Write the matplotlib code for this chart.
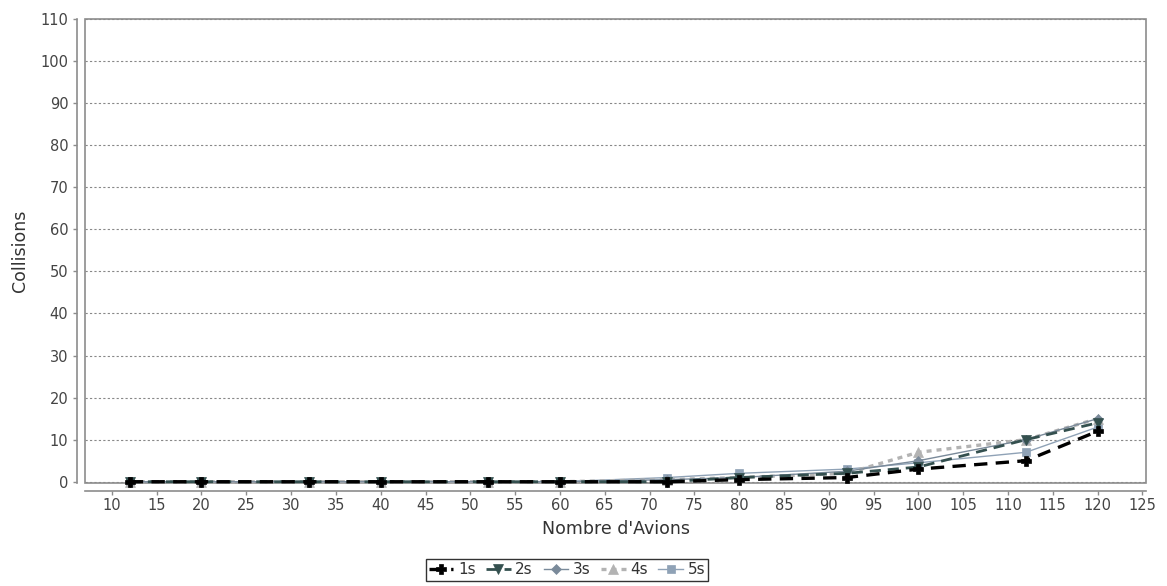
import matplotlib
matplotlib.use("Agg")
import matplotlib.pyplot as plt
from matplotlib.patches import Rectangle

x_values = [12, 20, 32, 40, 52, 60, 72, 80, 92, 100, 112, 120]
s1 = [0, 0, 0, 0, 0, 0, 0, 0.5, 1, 3, 5, 12]
s2 = [0, 0, 0, 0, 0, 0, 0, 1, 2, 3.5, 10, 14]
s3 = [0, 0, 0, 0, 0, 0, 0.5, 1, 2.5, 5, 10, 15]
s4 = [0, 0, 0, 0, 0, 0, 0.5, 1, 2, 7, 10, 15]
s5 = [0, 0, 0, 0, 0, 0, 1, 2, 3, 4.5, 7, 13]
series_labels = ["1s", "2s", "3s", "4s", "5s"]
x_ticks = list(range(10, 126, 5))
y_ticks = list(range(0, 111, 10))

W, H = 1167, 586
fig = plt.figure(figsize=(W / 100, H / 100), dpi=100)
L, R, T, B = 85, 1146, 19, 483
ax = fig.add_axes([L / W, 1 - B / H, (R - L) / W, (B - T) / H])

styles = [
    dict(color="#000000", ls=(0, (4, 2.5)), lw=2.4, marker="P", ms=7, zorder=6),
    dict(color="#34504f", ls=(0, (4, 2.5)), lw=2.0, marker="v", ms=7, zorder=5),
    dict(color="#7a8a9a", ls="-", lw=1.0, marker="D", ms=5, zorder=4),
    dict(color="#b3b3b3", ls=(0, (1.5, 1.5)), lw=2.4, marker="^", ms=7, zorder=3),
    dict(color="#8fa2b6", ls="-", lw=1.0, marker="s", ms=6, zorder=2),
]
data = [s1, s2, s3, s4, s5]
for d, lab, st in zip(data, series_labels, styles):
    ax.plot(x_values, d, label=lab, color=st["color"], linestyle=st["ls"],
            linewidth=st["lw"], marker=st["marker"], markersize=st["ms"],
            markeredgewidth=0.5, markeredgecolor=st["color"], zorder=st["zorder"],
            clip_on=False)

ax.set_xlim(7.0, 125.4)
ax.set_ylim(-0.3, 110)
ax.set_xticks(x_ticks)
ax.set_yticks(y_ticks)

ax.grid(axis="y", color="#888888", linestyle=(0, (2, 2)), linewidth=0.8)
ax.set_axisbelow(True)

for side in ["top", "right"]:
    ax.spines[side].set_visible(False)
for side in ["left", "bottom"]:
    ax.spines[side].set_position(("outward", 6))
    ax.spines[side].set_color("#8c8c8c")
    ax.spines[side].set_linewidth(1.2)
ax.add_patch(Rectangle((0, 0), 1, 1, transform=ax.transAxes, fill=False,
                       edgecolor="#8c8c8c", linewidth=1.2, zorder=1, clip_on=False))

ax.tick_params(axis="both", colors="#8c8c8c", length=3, width=1,
               labelsize=10.5, labelcolor="#444444")
ax.tick_params(axis="x", pad=2)
ax.tick_params(axis="y", pad=3)

ax.set_xlabel("Nombre d'Avions", fontsize=12.5, color="#333333", labelpad=5)
ax.set_ylabel("Collisions", fontsize=12.5, color="#333333", labelpad=8)

leg = fig.legend(loc="center", bbox_to_anchor=(567 / W, 1 - 570 / H), ncol=5,
                 frameon=True, fancybox=False, fontsize=11, handlelength=1.6,
                 handletextpad=0.3, columnspacing=0.7, borderpad=0.2,
                 borderaxespad=0)
leg.get_frame().set_edgecolor("#000000")
leg.get_frame().set_linewidth(1.0)
for t in leg.get_texts():
    t.set_color("#333333")

fig.savefig("out.png", dpi=100)
